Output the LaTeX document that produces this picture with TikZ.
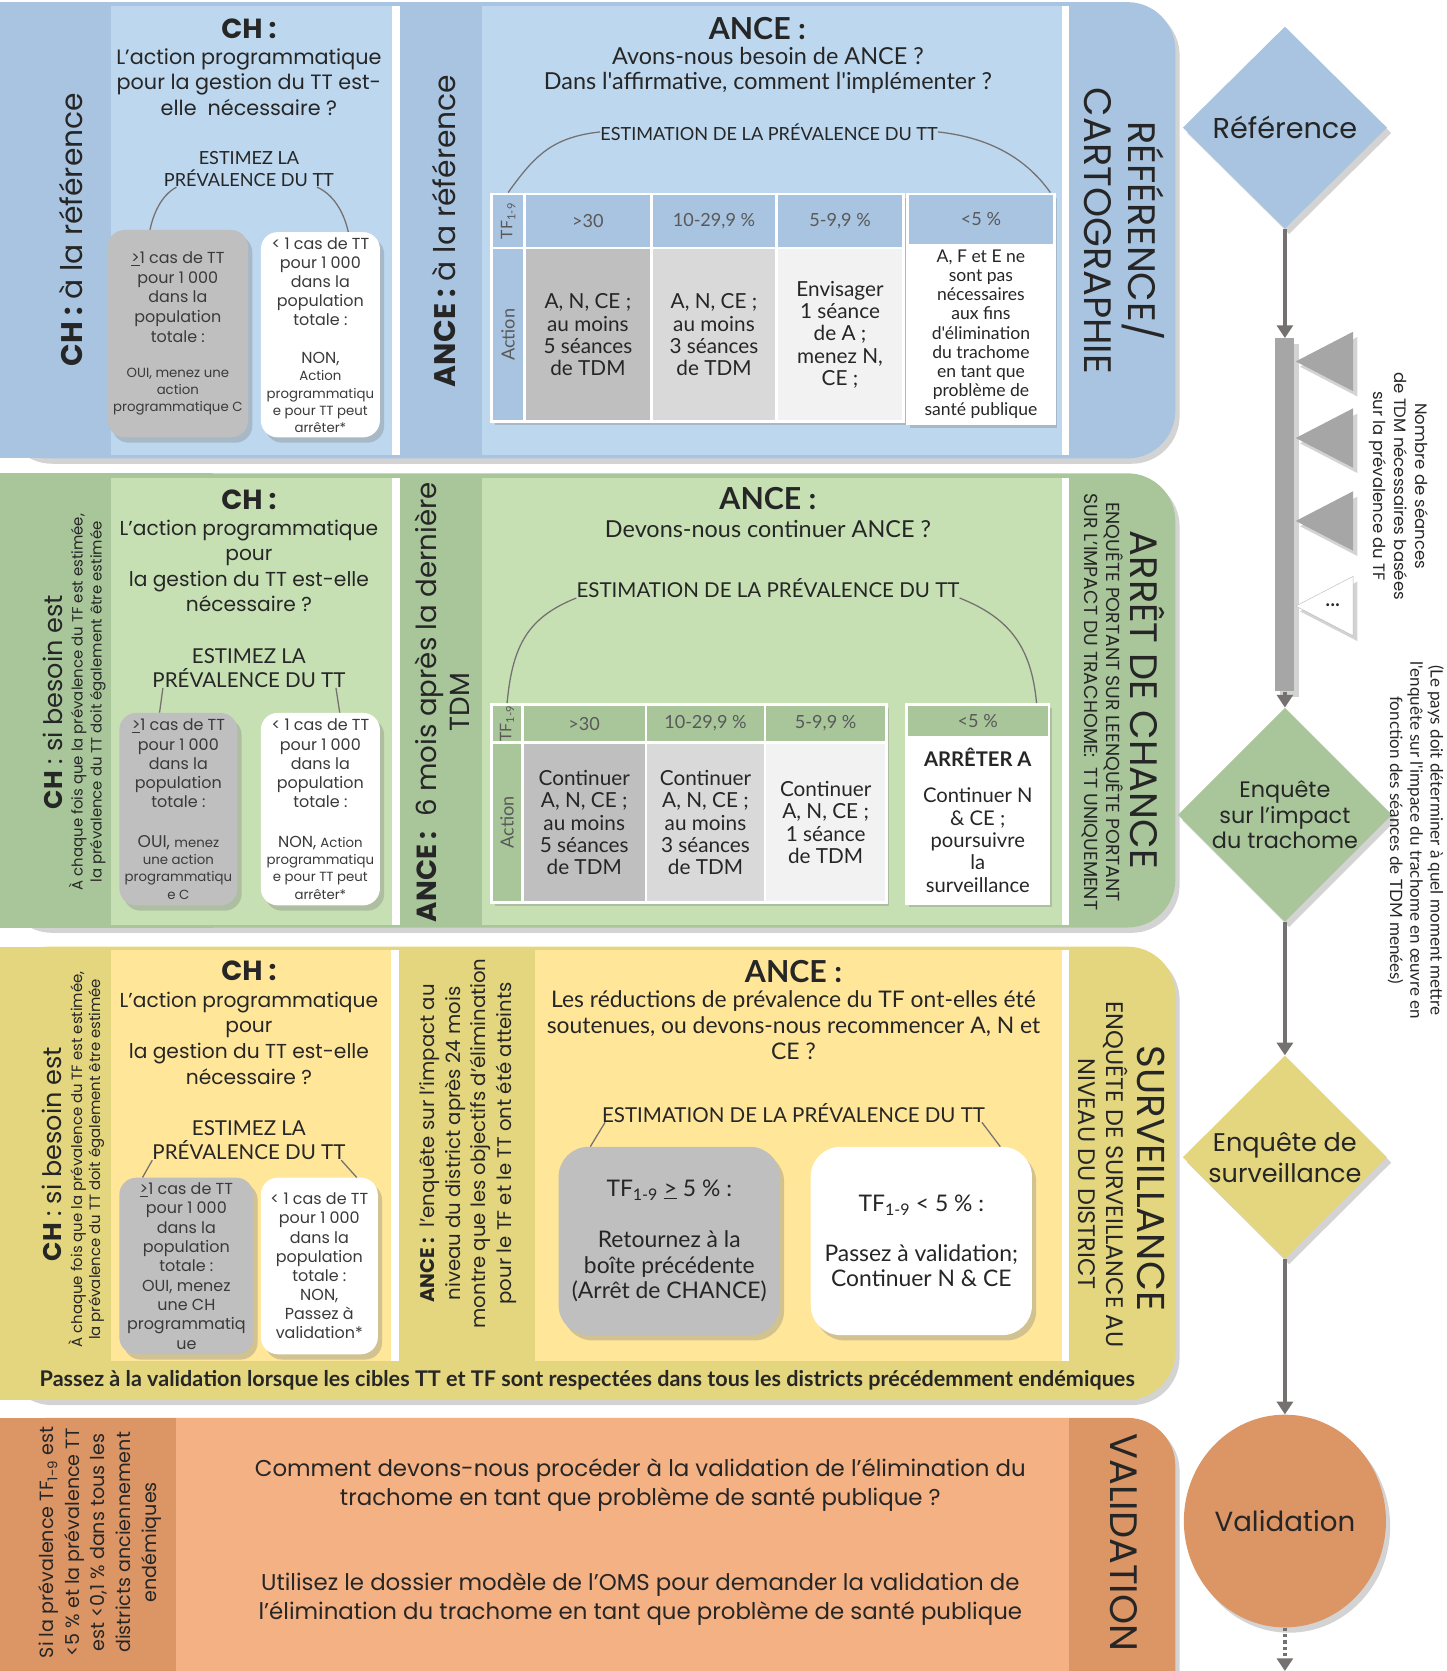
\documentclass[tikz,border=0pt]{standalone}
\usepackage{fontspec}
\setmainfont{Poppins}
\newfontfamily\cond{Lato}
\usetikzlibrary{positioning, shapes.geometric, shadows, arrows.meta, calc}

\definecolor{blueband}{HTML}{A9C4E0}
\definecolor{bluelight}{HTML}{BDD7EE}
\definecolor{greenband}{HTML}{A9C69B}
\definecolor{greenlight}{HTML}{C6E0B4}
\definecolor{yellowband}{HTML}{E3D67E}
\definecolor{yellowlight}{HTML}{FFE699}
\definecolor{orangeband}{HTML}{DC9565}
\definecolor{orangelight}{HTML}{F4B183}
\definecolor{cellgray}{HTML}{BFBFBF}
\definecolor{cellmid}{HTML}{D9D9D9}
\definecolor{celllight}{HTML}{F2F2F2}
\definecolor{txtc}{HTML}{262626}
\definecolor{boxtxt}{HTML}{3A3A3A}
\definecolor{headtxt}{HTML}{595959}
\definecolor{linec}{HTML}{767171}
\definecolor{barc}{HTML}{A6A6A6}

\newcommand{\fsz}[2]{\fontsize{#1}{#2}\selectfont}

\begin{document}
\begin{tikzpicture}[
    x=1pt, y={(0pt,-1pt)},
    every node/.style={inner sep=0pt, align=center, text=txtc},
    softshadow/.style={drop shadow={opacity=0.35, shadow xshift=4pt, shadow yshift=-5pt}},
    rowband/.style={fill=#1, rounded corners=45pt, softshadow},
    pbox/.style={rectangle, rounded corners=16pt, anchor=north west, softshadow, text=boxtxt},
    cellbox/.style={rectangle, draw=white, line width=2.5pt, anchor=north west, text=txtc},
    headcell/.style={cellbox, fill=#1, text=headtxt, font=\cond\fsz{17}{20}},
    arcline/.style={draw=linec, line width=1.2pt},
    flow/.style={draw=linec, line width=3pt, -{Triangle[length=12pt, width=15pt]}},
    decision/.style={diamond, aspect=1, softshadow},
    striptext/.style={rotate=90},
    tabtext/.style={rotate=-90}
    ]

    \useasboundingbox (0,0) rectangle (1360,1571);

    \fill[rowband=blueband] (0,2) rectangle (1105,431);
    \fill[blueband] (0,2) rectangle (200,431);
    \fill[bluelight] (104,6) rectangle (369,428);
    \fill[white] (369,6) rectangle (376,428);
    \fill[bluelight] (453,6) rectangle (998,428);
    \fill[white] (998,6) rectangle (1005,428);

    \fill[rowband=greenband] (0,445) rectangle (1105,872);
    \fill[greenband] (0,445) rectangle (200,872);
    \fill[greenlight] (104,449) rectangle (369,870);
    \fill[white] (369,449) rectangle (376,870);
    \fill[greenlight] (453,449) rectangle (998,870);
    \fill[white] (998,449) rectangle (1005,870);

    \fill[rowband=yellowband] (0,890) rectangle (1105,1316);
    \fill[yellowband] (0,890) rectangle (200,1316);
    \fill[yellowlight] (104,893) rectangle (368,1280);
    \fill[white] (368,893) rectangle (375,1280);
    \fill[yellowlight] (503,893) rectangle (998,1280);
    \fill[white] (998,893) rectangle (1005,1280);

    \fill[rowband=orangeband] (0,1333) rectangle (1105,1640);
    \fill[orangeband] (0,1333) rectangle (200,1640);
    \fill[orangelight] (165,1333) rectangle (1005,1640);

    % reference / cartographie
    \node[striptext, font=\fsz{28}{30}] (chAs) at (67,216) {\textbf{CH :} à la référence};
    \node[font=\fsz{26}{28}] (chAh) at (234,27) {\textbf{CH :}};
    \node[font=\fsz{19.5}{24}] (chAq) at (234,77) {L'action programmatique\\pour la gestion du TT est-\\elle\ \ nécessaire ?};
    \node[font=\cond\fsz{17}{21}] (estA) at (234,159) {ESTIMEZ LA\\PRÉVALENCE DU TT};
    \node[pbox, fill=cellgray, minimum width=132pt, minimum height=195pt, font=\fsz{15}{18.5}] (gA) at (101,216)
        {\underline{>}1 cas de TT\\pour 1 000\\dans la\\population\\totale :\\[15pt]{\fsz{12.5}{16}OUI, menez une}\\[-2.5pt]{\fsz{12.5}{16}action}\\[-2.5pt]{\fsz{12.5}{16}programmatique C}};
    \node[pbox, fill=white, minimum width=112pt, minimum height=193pt, font=\fsz{15}{18}] (wA) at (245,218)
        {< 1 cas de TT\\pour 1 000\\dans la\\population\\totale :\\[18pt]NON,\\[-2pt]{\fsz{12.5}{16}Action}\\[-2pt]{\fsz{12.5}{16}programmatiqu}\\[-2pt]{\fsz{12.5}{16}e pour TT peut}\\[-2pt]{\fsz{12.5}{16}arrêter*}};
    \draw[arcline] ([xshift=12pt]estA.south west) .. controls +(-15,8) and +(3,-14) .. ([xshift=40pt]gA.north west);
    \draw[arcline] ([xshift=-16pt]estA.south east) .. controls +(18,8) and +(-3,-14) .. ([xshift=-30pt]wA.north east);

    \node[striptext, font=\fsz{28}{30}] (anceAs) at (417,217) {\textbf{ANCE :} à la référence};
    \node[font=\cond\bfseries\fsz{28.5}{32}] (anceAh) at (712,27) {ANCE :};
    \node[font=\cond\fsz{22}{24}] (anceAq) at (722,66) {Avons-nous besoin de ANCE ?\\Dans l'affirmative, comment l'implémenter ?};
    \node[font=\cond\fsz{17}{20}] (estAA) at (723,124) {ESTIMATION DE LA PRÉVALENCE DU TT};

    \fill[white, softshadow] (461,181) rectangle (848,395);
    \node[headcell=blueband, minimum width=31pt, minimum height=51pt] (tfA) at (461,181) {};
    \node[headcell=blueband, minimum width=119pt, minimum height=51pt] (hA1) at (492,181) {>30};
    \node[headcell=blueband, minimum width=118pt, minimum height=51pt] (hA2) at (611,181) {10-29,9 \%};
    \node[headcell=blueband, minimum width=119pt, minimum height=51pt] (hA3) at (729,181) {5-9,9 \%};
    \node[headcell=blueband, minimum width=31pt, minimum height=163pt] (actA) at (461,232) {};
    \node[cellbox, fill=cellgray, minimum width=119pt, minimum height=163pt, font=\cond\fsz{19.5}{21}] (cA1) at (492,232) {A, N, CE ;\\au moins\\5 séances\\de TDM};
    \node[cellbox, fill=cellmid, minimum width=118pt, minimum height=163pt, font=\cond\fsz{19.5}{21}] (cA2) at (611,232) {A, N, CE ;\\au moins\\3 séances\\de TDM};
    \node[cellbox, fill=celllight, minimum width=119pt, minimum height=163pt, font=\cond\fsz{19.5}{21}] (cA3) at (729,232) {Envisager\\1 séance\\de A ;\\menez N,\\CE ;};
    \node[rotate=90, font=\cond\fsz{15}{15}, text=headtxt] (tfAl) at (tfA.center) {TF\textsubscript{1-9}};
    \node[rotate=90, font=\cond\fsz{17}{18}, text=headtxt] (actAl) at (actA.center) {Action};
    \fill[white, softshadow] (852,181) rectangle (990,397);
    \node[headcell=blueband, minimum width=138pt, minimum height=48pt] (hA4) at (852,181) {<5 \%};
    \node[cellbox, fill=white, minimum width=138pt, minimum height=168pt, font=\cond\fsz{16.5}{18}] (cA4) at (852,229)
        {A, F et E ne\\sont pas\\nécessaires\\aux fins\\d'élimination\\du trachome\\en tant que\\problème de\\santé publique};
    \draw[arcline] (estAA.west) .. controls +(-45,5) and +(25,-35) .. (tfA.north);
    \draw[arcline] (estAA.east) .. controls +(45,5) and +(-25,-35) .. ([xshift=-5pt]hA4.north east);

    \node[tabtext, font=\fsz{36}{42}] (refT) at (1057,217) {RÉFÉRENCE/\\CARTOGRAPHIE};

    % arret de chance
    \node[striptext, font=\fsz{24}{26}] (chBs) at (50,660) {\textbf{CH} : si besoin est};
    \node[striptext, font=\fsz{14}{18}] (chBn) at (82,660) {À chaque fois que la prévalence du TF est estimée,\\la prévalence du TT doit également être estimée};
    \node[font=\fsz{26}{28}] (chBh) at (234,470) {\textbf{CH :}};
    \node[font=\fsz{19}{24}] (chBq) at (234,532) {L'action programmatique\\pour\\la gestion du TT est-elle\\nécessaire ?};
    \node[font=\cond\fsz{19.3}{23}] (estB) at (234,628) {ESTIMEZ LA\\PRÉVALENCE DU TT};
    \node[pbox, fill=cellgray, minimum width=111pt, minimum height=181pt, font=\fsz{15}{18}] (gB) at (112,670)
        {\underline{>}1 cas de TT\\pour 1 000\\dans la\\population\\totale :\\[20pt]{\fsz{16}{16}OUI,} {\fsz{12.5}{16}menez}\\[-2pt]{\fsz{12.5}{16}une action}\\[-2pt]{\fsz{12.5}{16}programmatiqu}\\[-2pt]{\fsz{12.5}{16}e C}};
    \node[pbox, fill=white, minimum width=112pt, minimum height=181pt, font=\fsz{15}{18}] (wB) at (245,670)
        {< 1 cas de TT\\pour 1 000\\dans la\\population\\totale :\\[20pt]NON, {\fsz{12.5}{16}Action}\\[-2pt]{\fsz{12.5}{16}programmatiqu}\\[-2pt]{\fsz{12.5}{16}e pour TT peut}\\[-2pt]{\fsz{12.5}{16}arrêter*}};
    \draw[arcline] ([xshift=10pt]estB.south west) -- ([xshift=38pt]gB.north west);
    \draw[arcline] ([xshift=-9pt]estB.south east) -- ([xshift=-38pt]wB.north east);

    \node[striptext, font=\fsz{26}{31}] (anceBs) at (416,660) {\textbf{ANCE :}\ \ 6 mois après la dernière\\TDM};
    \node[font=\cond\bfseries\fsz{28.5}{32}] (anceBh) at (722,469) {ANCE :};
    \node[font=\cond\fsz{22}{24}] (anceBq) at (722,497) {Devons-nous continuer ANCE ?};
    \node[font=\cond\fsz{19.3}{22}] (estBB) at (722,553) {ESTIMATION DE LA PRÉVALENCE DU TT};

    \fill[white, softshadow] (461,661) rectangle (832,847);
    \node[headcell=greenband, minimum width=29pt, minimum height=36pt] (tfB) at (461,661) {};
    \node[headcell=greenband, minimum width=116pt, minimum height=36pt] (hB1) at (490,661) {>30};
    \node[headcell=greenband, minimum width=112pt, minimum height=36pt] (hB2) at (606,661) {10-29,9 \%};
    \node[headcell=greenband, minimum width=114pt, minimum height=36pt] (hB3) at (718,661) {5-9,9 \%};
    \node[headcell=greenband, minimum width=29pt, minimum height=150pt] (actB) at (461,697) {};
    \node[cellbox, fill=cellgray, minimum width=116pt, minimum height=150pt, font=\cond\fsz{19.5}{21}] (cB1) at (490,697) {Continuer\\A, N, CE ;\\au moins\\5 séances\\de TDM};
    \node[cellbox, fill=cellmid, minimum width=112pt, minimum height=150pt, font=\cond\fsz{19.5}{21}] (cB2) at (606,697) {Continuer\\A, N, CE ;\\au moins\\3 séances\\de TDM};
    \node[cellbox, fill=celllight, minimum width=114pt, minimum height=150pt, font=\cond\fsz{19.5}{21}] (cB3) at (718,697) {Continuer\\A, N, CE ;\\1 séance\\de TDM};
    \node[rotate=90, font=\cond\fsz{15}{15}, text=headtxt] (tfBl) at (tfB.center) {TF\textsubscript{1-9}};
    \node[rotate=90, font=\cond\fsz{17}{18}, text=headtxt] (actBl) at (actB.center) {Action};
    \fill[white, softshadow] (851,661) rectangle (985,848);
    \node[headcell=greenband, minimum width=134pt, minimum height=31pt] (hB4) at (851,661) {<5 \%};
    \node[cellbox, fill=white, minimum width=134pt, minimum height=156pt, font=\cond\fsz{19}{21}] (cB4) at (851,692)
        {{\bfseries ARRÊTER A}\\[13pt]Continuer N\\\& CE ;\\poursuivre\\la\\surveillance};
    \draw[arcline] (estBB.south west) .. controls +(-45,18) and +(5,-55) .. (tfB.north);
    \draw[arcline] (estBB.south east) .. controls +(45,18) and +(-5,-55) .. ([xshift=-13pt]hB4.north east);

    \node[tabtext, font=\fsz{36}{38}] (arrT) at (1079,658) {ARRÊT DE CHANCE};
    \node[tabtext, font=\fsz{17.7}{21}] (arrN) at (1037,660) {ENQUÊTE PORTANT SUR LEENQUÊTE PORTANT\\SUR L'IMPACT DU TRACHOME:\ \ TT UNIQUEMENT};

    % surveillance
    \node[striptext, font=\fsz{24}{26}] (chCs) at (49,1085) {\textbf{CH} : si besoin est};
    \node[striptext, font=\fsz{14}{17}] (chCn) at (81,1090) {À chaque fois que la prévalence du TF est estimée,\\la prévalence du TT doit également être estimée};
    \node[font=\fsz{26}{28}] (chCh) at (234,913) {\textbf{CH :}};
    \node[font=\fsz{19}{24}] (chCq) at (234,976) {L'action programmatique\\pour\\la gestion du TT est-elle\\nécessaire ?};
    \node[font=\cond\fsz{19.3}{23}] (estC) at (234,1072) {ESTIMEZ LA\\PRÉVALENCE DU TT};
    \node[pbox, fill=cellgray, minimum width=126pt, minimum height=166pt, font=\fsz{15}{18.2}] (gC) at (112,1107)
        {\underline{>}1 cas de TT\\pour 1 000\\dans la\\population\\totale :\\OUI, menez\\une CH\\programmatiq\\ue};
    \node[pbox, fill=white, minimum width=110pt, minimum height=166pt, font=\fsz{15}{18}] (wC) at (245,1107)
        {< 1 cas de TT\\pour 1 000\\dans la\\population\\totale :\\NON,\\Passez à\\validation*};
    \draw[arcline] ([xshift=0pt]estC.south west) -- ([xshift=22pt]gC.north west);
    \draw[arcline] ([xshift=-4pt]estC.south east) -- ([xshift=-20pt]wC.north east);

    \node[striptext, font=\fsz{18.5}{24}] (anceCs) at (440,1075) {\textbf{ANCE :}\ \ l'enquête sur l'impact au\\niveau du district après 24 mois\\montre que les objectifs d'élimination\\pour le TF et le TT ont été atteints};
    \node[font=\cond\bfseries\fsz{28.5}{32}] (anceCh) at (746,913) {ANCE :};
    \node[font=\cond\fsz{21.5}{24.5}] (anceCq) at (746,964) {Les réductions de prévalence du TF ont-elles été\\soutenues, ou devons-nous recommencer A, N et\\CE ?};
    \node[font=\cond\fsz{19.3}{22}] (estCC) at (746,1046) {ESTIMATION DE LA PRÉVALENCE DU TT};
    \node[pbox, fill=cellgray, minimum width=208pt, minimum height=177pt, rounded corners=28pt, text=txtc, font=\cond\fsz{21.5}{24}] (gCC) at (525,1078)
        {TF\textsubscript{1-9} \underline{>} 5 \% :\\[24pt]Retournez à la\\boîte précédente\\(Arrêt de CHANCE)};
    \node[pbox, fill=white, minimum width=208pt, minimum height=177pt, rounded corners=28pt, text=txtc, font=\cond\fsz{21.5}{24}] (wCC) at (762,1078)
        {TF\textsubscript{1-9} < 5 \% :\\[23pt]Passez à validation;\\Continuer N \& CE};
    \draw[arcline] ([xshift=3pt]estCC.south west) -- ([xshift=30pt]gCC.north west);
    \draw[arcline] ([xshift=-3pt]estCC.south east) -- ([xshift=-30pt]wCC.north east);

    \node[tabtext, font=\fsz{36.5}{38}] (survT) at (1082,1108) {SURVEILLANCE};
    \node[tabtext, font=\fsz{22.5}{27}] (survN) at (1037,1104) {ENQUÊTE DE SURVEILLANCE AU\\NIVEAU DU DISTRICT};

    \node[font=\cond\bfseries\fsz{20.3}{22}] (passC) at (552,1298) {Passez à la validation lorsque les cibles TT et TF sont respectées dans tous les districts précédemment endémiques};

    % validation
    \node[striptext, font=\fsz{18}{24}] (valS) at (94,1450) {Si la prévalence TF\textsubscript{1-9} est\\<5 \% et la prévalence TT\\est <0,1 \% dans tous les\\districts anciennement\\endémiques};
    \node[font=\fsz{21.5}{27}] (valQ) at (602,1396) {Comment devons-nous procéder à la validation de l'élimination du\\trachome en tant que problème de santé publique ?};
    \node[font=\fsz{21.5}{27}] (valA) at (602,1503) {Utilisez le dossier modèle de l'OMS pour demander la validation de\\l'élimination du trachome en tant que problème de santé publique};
    \node[tabtext, font=\fsz{36}{38}] (valT) at (1057,1450) {VALIDATION};

    % flow column
    \node[decision, fill=blueband, minimum width=192pt, minimum height=190pt, font=\fsz{27}{30}] (refD) at (1208,120) {Référence};
    \node[fill=barc, minimum width=18pt, minimum height=332pt, softshadow] (bar) at (1208,484) {};
    \fill[barc, softshadow] ($(bar.north east)+(1,22)$) -- +(54,-28) -- +(54,28) -- cycle;
    \fill[barc, softshadow] ($(bar.north east)+(1,94)$) -- +(54,-28) -- +(54,28) -- cycle;
    \fill[barc, softshadow] ($(bar.north east)+(1,172)$) -- +(54,-28) -- +(54,28) -- cycle;
    \filldraw[fill=white, draw=linec!50, softshadow] ($(bar.north east)+(1,252)$) -- +(54,-28) -- +(54,28) -- cycle;
    \node[font=\fsz{22}{22}] (dots) at (1253,569) {...};
    \node[decision, fill=greenband, minimum width=192pt, minimum height=176pt, font=\fsz{21}{24}] (impD) at (1208,766) {Enquête\\sur l’impact\\du trachome};
    \node[decision, fill=yellowband, minimum width=192pt, minimum height=188pt, font=\fsz{24}{29}] (survD) at (1208,1088) {Enquête de\\surveillance};
    \node[ellipse, fill=orangeband, minimum width=190pt, minimum height=200pt, softshadow, font=\fsz{26}{28}] (valE) at (1208,1430) {Validation};
    \coordinate (flowend) at (1208,1571);

    \draw[flow] (refD) -- (bar);
    \draw[flow] (bar) -- (impD);
    \draw[flow] (impD) -- (survD);
    \draw[flow] (survD) -- (valE);
    \draw[flow, dashed] (valE) -- (flowend);

    \node[tabtext, font=\fsz{15.5}{20}] (tdmN) at (1315,457) {Nombre de séances\\de TDM nécessaires basées\\sur la prévalence du TF};
    \node[tabtext, font=\cond\fsz{16}{19}] (planN) at (1331,790) {(Le pays doit déterminer à quel moment mettre\\l'enquête sur l'impace du trachome en œuvre en\\fonction des séances de TDM menées)};

  \end{tikzpicture}
\end{document}
